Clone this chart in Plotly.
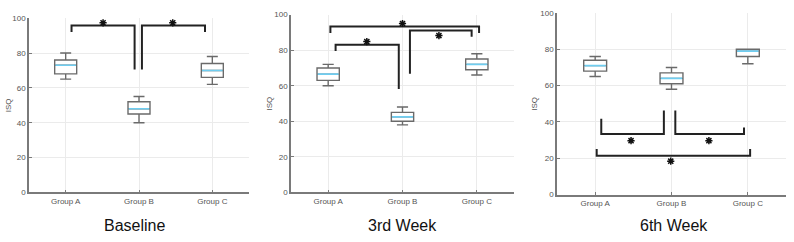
import plotly.graph_objects as go

# ---------------- data ----------------
groups = ["Group A", "Group B", "Group C"]
panel_titles = ["Baseline", "3rd Week", "6th Week"]

# box statistics per panel: lists over groups A, B, C
lower = [[65, 40, 62], [60, 38, 66], [65, 58, 72]]
q1 = [[68, 45, 66], [63, 40, 69], [68, 61, 76]]
median = [[73, 48, 70], [66.5, 42.5, 72], [71, 64, 79]]
q3 = [[76, 52, 74], [70, 45, 75], [74, 67, 80]]
upper = [[80, 55, 78], [72, 48, 78], [76, 70, 80]]

# significance brackets per panel:
# (x_left, x_right, y_left_end, y_right_end, y_bar, x_star, y_star)
brackets = [
    [(0.08, 0.94, 92, 70.5, 95.8, 0.51, 97.3),
     (1.04, 1.90, 70.5, 92, 95.8, 1.46, 97.3)],
    [(0.03, 2.03, 89.6, 89.6, 93.3, 1.0, 95.0),
     (0.10, 0.95, 79.5, 58.2, 83.0, 0.52, 84.8),
     (1.10, 1.93, 66.8, 87.5, 91.0, 1.49, 88.2)],
    [(0.08, 0.90, 41.7, 46.3, 33.4, 0.47, 29.7),
     (1.05, 1.95, 46.3, 36.9, 33.4, 1.49, 29.7),
     (0.02, 2.03, 25.1, 25.1, 21.4, 0.99, 18.4)],
]

# ---------------- layout geometry ----------------
W, H = 794, 242
x_dom_px = [(29, 249), (291, 514), (557, 786)]
y_dom_px = [(195.7, 14.7), (195.7, 11.0), (198.0, 9.3)]
title_x_px = [134, 402, 674]
title_y_px = 230
ylab_x_px = [8, 270, 535]

BOX_W = 0.3
box_color = "#6a6a6a"
median_color = "#6fcdf0"
bracket_color = "#222222"
tick_color = "#555555"

fig = go.Figure()

for p in range(3):
    ax = "" if p == 0 else str(p + 1)
    xa, ya = "x" + ax, "y" + ax
    pos = list(range(len(groups)))
    fig.add_trace(go.Box(
        x=pos, q1=q1[p], median=median[p], q3=q3[p],
        lowerfence=lower[p], upperfence=upper[p],
        width=BOX_W, whiskerwidth=0.5,
        fillcolor="white", line=dict(color=box_color, width=1.4),
        xaxis=xa, yaxis=ya, showlegend=False, hoverinfo="skip",
    ))
    # median lines in light blue
    mx, my = [], []
    for i, m in enumerate(median[p]):
        mx += [i - BOX_W / 2 + 0.01, i + BOX_W / 2 - 0.01, None]
        my += [m, m, None]
    fig.add_trace(go.Scatter(
        x=mx, y=my, mode="lines", line=dict(color=median_color, width=1.6),
        xaxis=xa, yaxis=ya, showlegend=False, hoverinfo="skip",
    ))
    # brackets
    bx, by, sx, sy = [], [], [], []
    for (xl, xr, yl, yr, yb, xs, ys) in brackets[p]:
        bx += [xl, xl, xr, xr, None]
        by += [yl, yb, yb, yr, None]
        sx.append(xs)
        sy.append(ys)
    fig.add_trace(go.Scatter(
        x=bx, y=by, mode="lines", line=dict(color=bracket_color, width=2),
        xaxis=xa, yaxis=ya, showlegend=False, hoverinfo="skip",
    ))
    fig.add_trace(go.Scatter(
        x=sx, y=sy, mode="markers",
        marker=dict(symbol="asterisk-open", size=6, color="#111111",
                    line=dict(color="#111111", width=1.5)),
        xaxis=xa, yaxis=ya, showlegend=False, hoverinfo="skip",
    ))

    x0, x1 = x_dom_px[p]
    yb0, yb1 = y_dom_px[p]
    axis_common = dict(
        showline=True, linecolor="#7a7a7a", linewidth=1.5,
        showgrid=True, gridcolor="#ebebeb", gridwidth=1,
        ticks="inside", ticklen=3, tickcolor="#7a7a7a",
        tickfont=dict(size=8, color=tick_color, family="Liberation Sans"),
        zeroline=False, mirror=False,
    )
    fig.update_layout(**{
        "xaxis" + ax: dict(
            domain=[x0 / W, x1 / W], range=[-0.5, 2.5],
            tickvals=pos, ticktext=groups, anchor=ya, **axis_common),
        "yaxis" + ax: dict(
            domain=[1 - yb0 / H, 1 - yb1 / H], range=[0, 100],
            tickvals=[0, 20, 40, 60, 80, 100], anchor=xa, **axis_common),
    })
    fig.add_annotation(
        x=title_x_px[p] / W, y=1 - title_y_px / H, xref="paper", yref="paper",
        text=panel_titles[p], showarrow=False, xanchor="center", yanchor="middle",
        font=dict(size=16, color="#111111", family="Liberation Sans"),
    )
    fig.add_annotation(
        x=ylab_x_px[p] / W, y=1 - ((yb0 + yb1) / 2) / H, xref="paper", yref="paper",
        text="ISQ", showarrow=False, textangle=-90, xanchor="center", yanchor="middle",
        font=dict(size=8, color=tick_color, family="Liberation Sans"),
    )

fig.update_layout(
    width=W, height=H, margin=dict(l=0, r=0, t=0, b=0),
    paper_bgcolor="white", plot_bgcolor="white", showlegend=False,
)

fig.write_html("out.html")
